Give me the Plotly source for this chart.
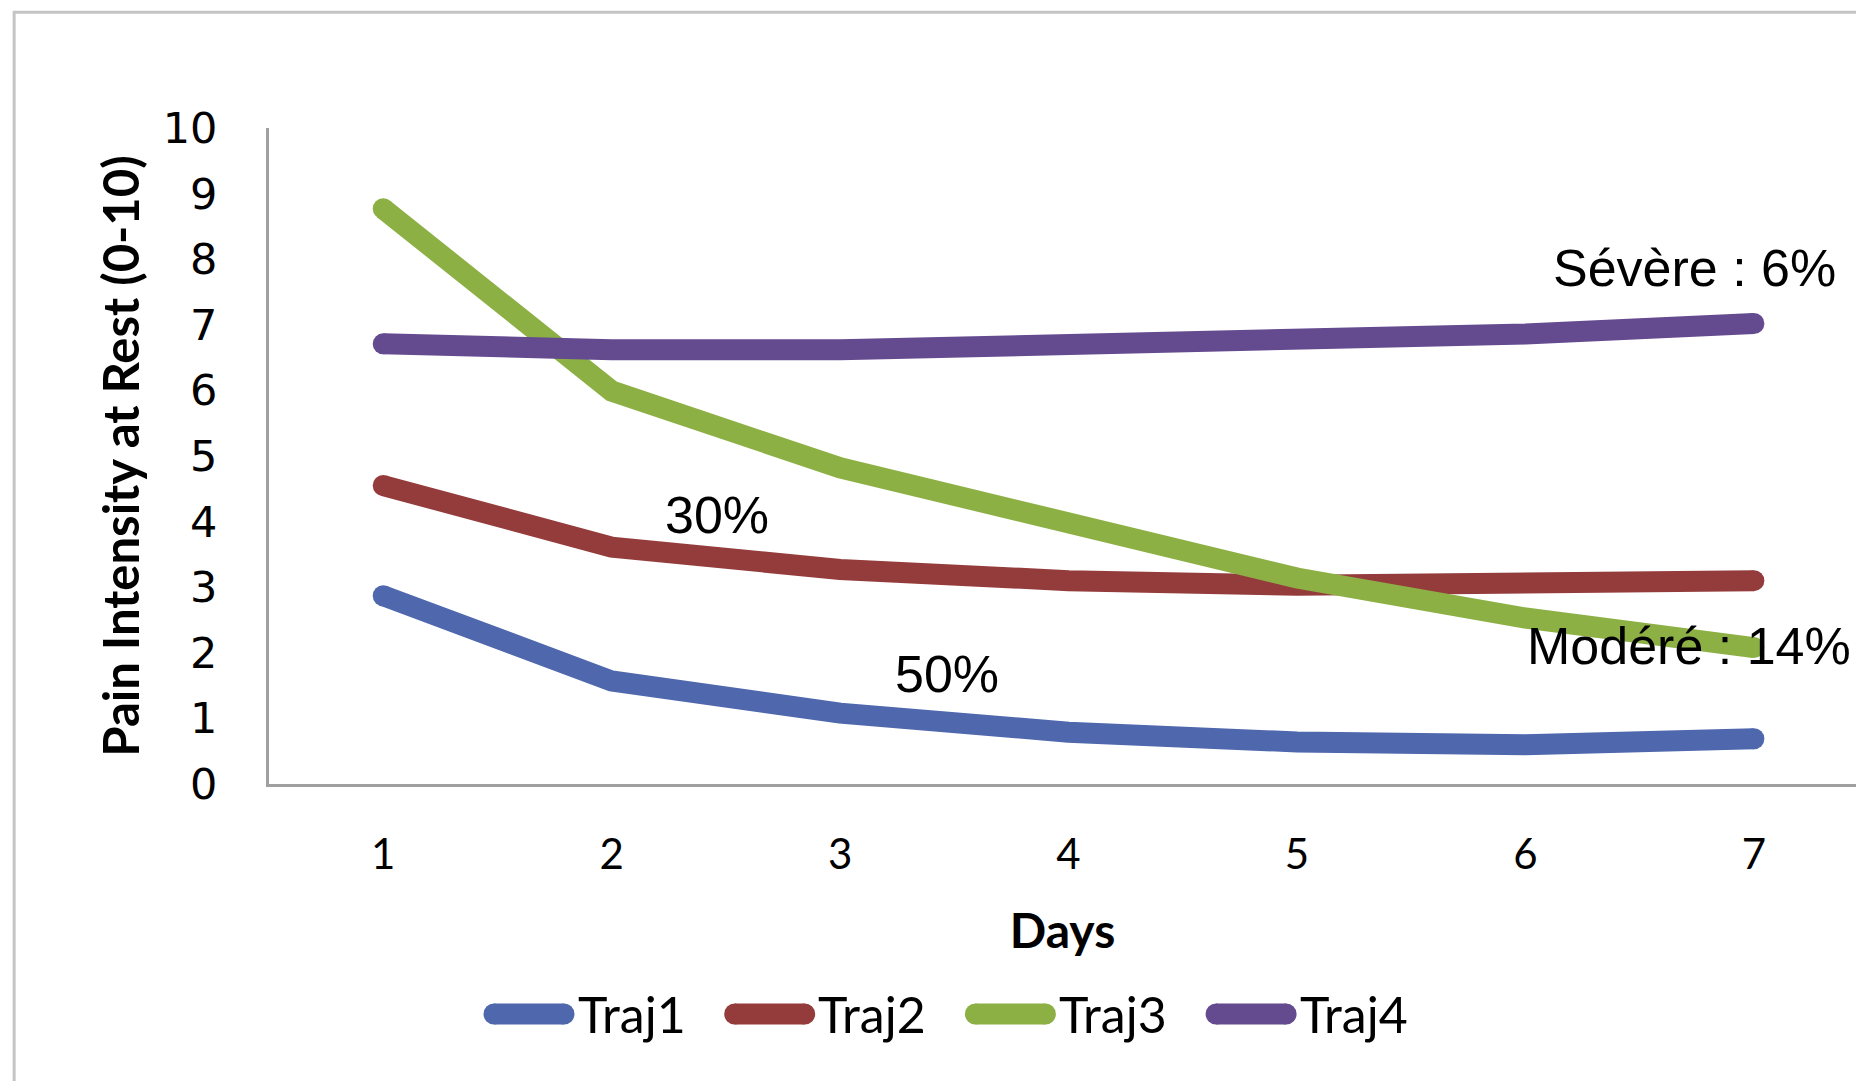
import plotly.graph_objects as go

# Mean pain-at-rest trajectories over the first post-operative week
days = [1, 2, 3, 4, 5, 6, 7]
traj1 = [2.87, 1.57, 1.08, 0.79, 0.64, 0.60, 0.69]
traj2 = [4.55, 3.61, 3.27, 3.10, 3.03, 3.03, 3.10]
traj3 = [8.77, 5.99, 4.82, 3.95, 3.14, 2.53, 2.08]
traj4 = [6.71, 6.62, 6.62, 6.68, 6.77, 6.86, 7.02]

series_names = ["Traj1", "Traj2", "Traj3", "Traj4"]
series_values = [traj1, traj2, traj3, traj4]
series_colors = ["#4E67AD", "#943C3B", "#8DB045", "#644A8F"]

y_ticks = list(range(0, 11))

# Group share labels: (text, x, y, anchor)
labels_text = ["Sévère : 6%", "30%", "50%", "Modéré : 14%"]
labels_x = [6.74, 2.46, 3.47, 6.0]
labels_y = [7.87, 4.10, 1.68, 2.10]
labels_anchor = ["center", "center", "center", "left"]

W, H = 1856, 1081
M_L, M_R, M_T, M_B = 269, 0, 128, 297
PW, PH = W - M_L - M_R, H - M_T - M_B

LW = 21

fig = go.Figure()
for name, vals, col in zip(series_names, series_values, series_colors):
    # round end caps: dots only at the first and last point
    cap_sizes = [LW if i in (0, len(vals) - 1) else 0 for i in range(len(vals))]
    fig.add_trace(go.Scatter(
        x=days, y=vals, name=name, mode="lines+markers",
        line=dict(color=col, width=LW),
        marker=dict(color=col, size=cap_sizes, opacity=1,
                    line=dict(width=0, color=col)),
        opacity=1, hoverinfo="skip", showlegend=False,
    ))

for t, x, y, a in zip(labels_text, labels_x, labels_y, labels_anchor):
    fig.add_annotation(
        x=x, y=y, xref="x", yref="y", text=t, showarrow=False,
        xanchor=a, yanchor="middle",
        font=dict(family="Liberation Sans, Arial, sans-serif", size=52, color="#000000"),
    )

# Legend row below the axis: rounded swatch followed by the series name
def px_to_paper_x(px):
    return (px - M_L) / PW

def px_to_paper_y(py):
    return (H - M_B - py) / PH

leg_y = px_to_paper_y(1014)
leg_first_center = 529
leg_step = 240.7
sw_half = 35
for i, (name, col) in enumerate(zip(series_names, series_colors)):
    cx = px_to_paper_x(leg_first_center + i * leg_step)
    fig.add_shape(type="line", xref="paper", yref="paper",
                  xsizemode="pixel", xanchor=cx, x0=-sw_half, x1=sw_half,
                  y0=leg_y, y1=leg_y, line=dict(color=col, width=LW))
    for end in (-sw_half, sw_half):
        fig.add_shape(type="circle", xref="paper", yref="paper",
                      xsizemode="pixel", ysizemode="pixel",
                      xanchor=cx, yanchor=leg_y,
                      x0=end - LW / 2, x1=end + LW / 2, y0=-LW / 2, y1=LW / 2,
                      fillcolor=col, line=dict(width=0))
    fig.add_annotation(
        x=px_to_paper_x(leg_first_center + i * leg_step + sw_half + LW / 2 + 1),
        y=leg_y, xref="paper", yref="paper", text=name, showarrow=False,
        xanchor="left", yanchor="middle",
        font=dict(family="Lato, sans-serif", size=50, color="#000000"),
    )

# Chart-area border (left and top edges visible)
fig.add_shape(type="rect", xref="paper", yref="paper",
              x0=-0.1606, x1=1.2, y0=-0.6, y1=1.1766,
              line=dict(color="#C4C4C4", width=3), layer="below")

fig.update_layout(
    width=W, height=H,
    margin=dict(l=M_L, r=M_R, t=M_T, b=M_B, pad=0),
    paper_bgcolor="white", plot_bgcolor="white",
    showlegend=False,
    xaxis=dict(
        range=[0.5, 7.447], tickmode="array", tickvals=days,
        ticktext=[str(d) for d in days],
        showgrid=False, zeroline=False, showline=True, linecolor="#A0A0A0", linewidth=3,
        ticks="", ticklabelstandoff=32,
        tickfont=dict(family="Lato, sans-serif", size=42, color="#000000"),
        title=dict(text="<b>Days</b>", standoff=37,
                   font=dict(family="Lato, sans-serif", size=48, color="#000000")),
    ),
    yaxis=dict(
        range=[0, 10], tickmode="array", tickvals=y_ticks,
        showgrid=False, zeroline=False, showline=True, linecolor="#A0A0A0", linewidth=3,
        ticks="", ticklabelstandoff=40,
        tickfont=dict(family="DejaVu Sans, sans-serif", size=43, color="#000000"),
        title=dict(text="<b>Pain Intensity at Rest (0-10)</b>", standoff=8,
                   font=dict(family="Lato, sans-serif", size=49, color="#000000")),
    ),
)

fig.write_html("out.html")
